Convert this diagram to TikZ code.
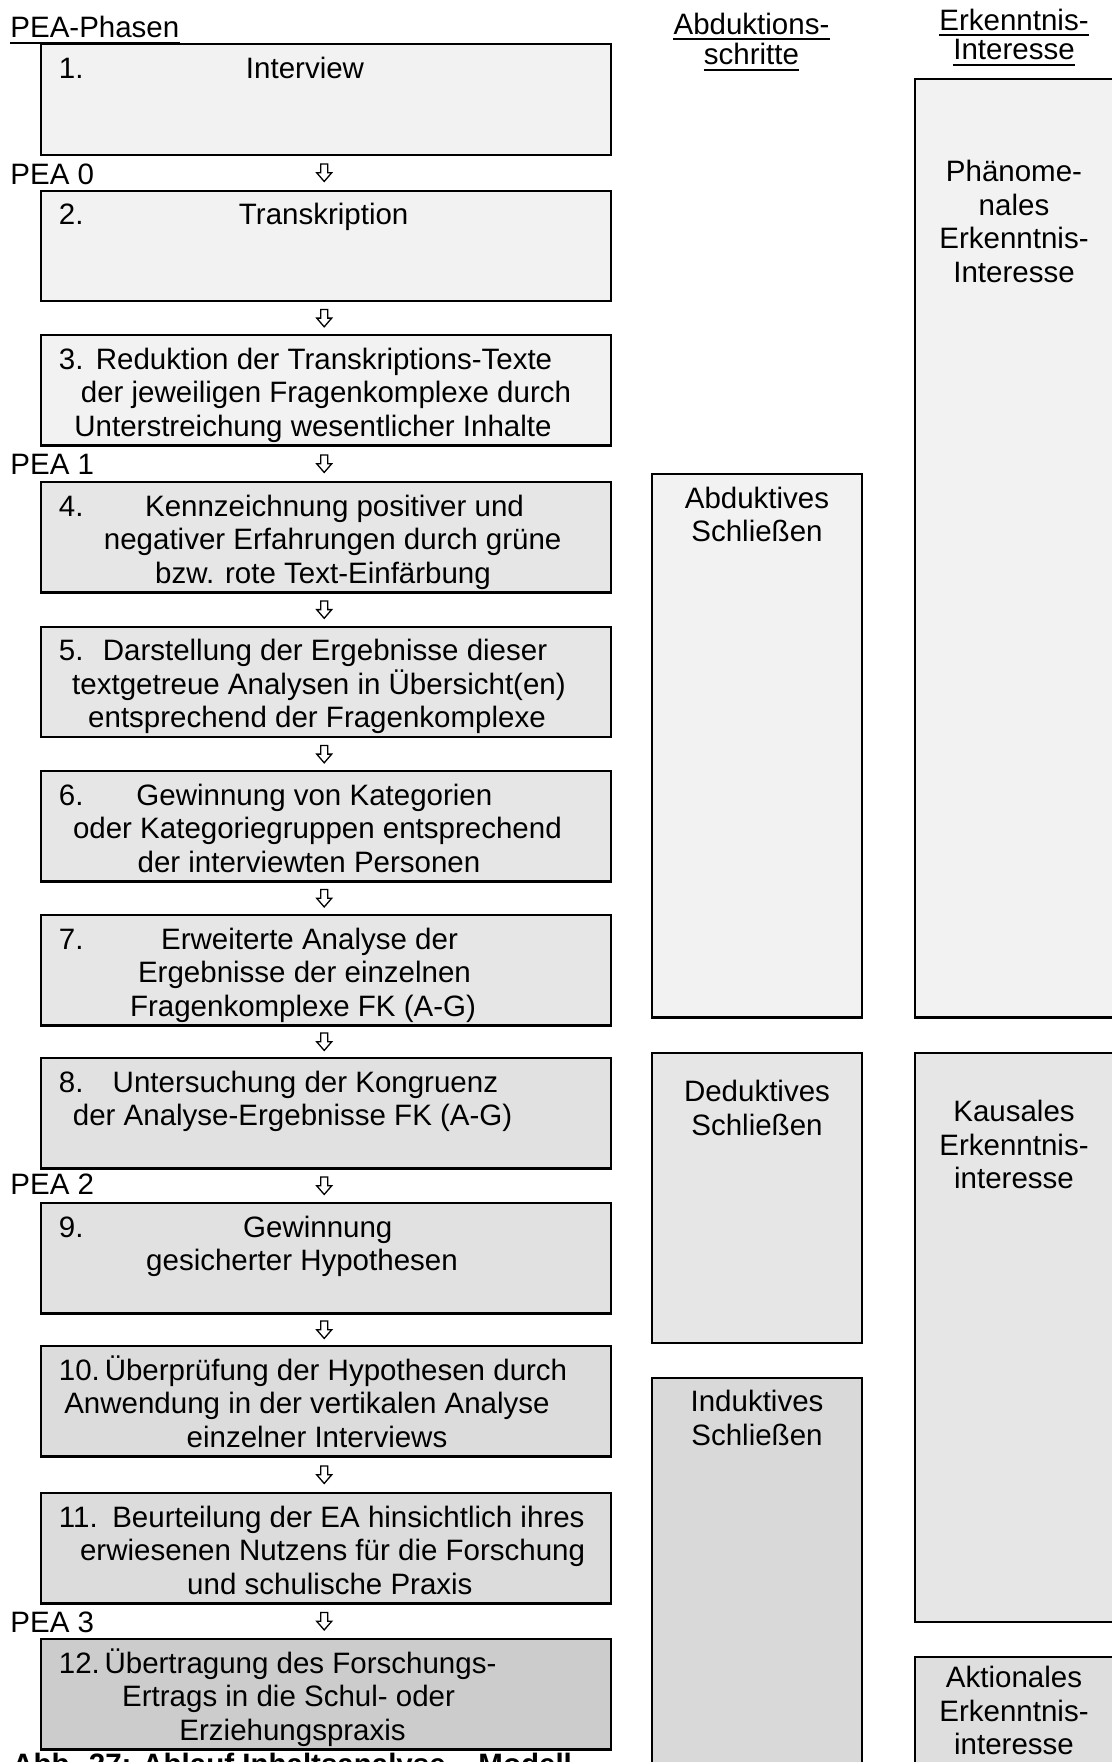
\documentclass[tikz,border=0pt]{standalone}
\usepackage{fontspec}
\setmainfont{Liberation Sans}
\usetikzlibrary{calc}
\definecolor{cA}{HTML}{F2F2F2}
\definecolor{cB}{HTML}{E6E6E6}
\definecolor{cC}{HTML}{E1E1E1}
\definecolor{cD}{HTML}{DCDCDC}
\definecolor{cE}{HTML}{CCCCCC}
\definecolor{cF}{HTML}{D9D9D9}
\definecolor{cG}{HTML}{DEDEDE}
\tikzset{
  box/.style={draw, line width=1.15pt, inner sep=0pt, minimum width=285pt, minimum height=55.25pt},
  colbox/.style={draw, line width=1.15pt, inner sep=0pt, minimum width=105pt},
  erkbox/.style={draw, line width=1.15pt, inner sep=0pt, minimum width=107.5pt},
  txt/.style={inner sep=0pt, anchor=base, font=\fontsize{14.75}{17}\selectfont},
  num/.style={txt, anchor=base west},
  harrow/.style={draw=black, fill=white, line width=0.65pt, line join=miter},
  uline/.style={line width=1pt},
}
\begin{document}
\begin{tikzpicture}[x=0.5pt,y=-0.5pt]
\useasboundingbox (0,0) rectangle (1112,1762);

% ---------- left column boxes ----------
\node[box, fill=cA] (b1)  at (326,99.55)   {};
\node[box, fill=cA] (b2)  at (326,245.95)  {};
\node[box, fill=cA] (b3)  at (326,390.25)  {};
\node[box, fill=cB] (b4)  at (326,537.25)  {};
\node[box, fill=cB] (b5)  at (326,681.95)  {};
\node[box, fill=cB] (b6)  at (326,826.25)  {};
\node[box, fill=cB] (b7)  at (326,970.25)  {};
\node[box, fill=cC] (b8)  at (326,1113.25) {};
\node[box, fill=cC] (b9)  at (326,1258.25) {};
\node[box, fill=cD] (b10) at (326,1401.25) {};
\node[box, fill=cD] (b11) at (326,1548.25) {};
\node[box, fill=cE] (b12) at (326,1694.25) {};

% ---------- hollow arrows between the boxes ----------
\foreach \u/\v in {b1/b2,b2/b3,b3/b4,b4/b5,b5/b6,b6/b7,b7/b8,b8/b9,b9/b10,b10/b11,b11/b12}{
  \coordinate (m-\u) at ($(\u.south)!0.5!(\v.north)+(-1.8,0)$);
  \draw[harrow] (m-\u) ++(-3.5,-8.7) -- ++(7,0) -- ++(0,8.7) -- ++(4,0)
        -- ++(-7.5,8.7) -- ++(-7.5,-8.7) -- ++(4,0) -- cycle;
}

% ---------- left labels ----------
\node[num] (hP) at (10,37.5) {PEA-Phasen};
\draw[uline] ([yshift=-2.7pt]hP.base west) -- ([yshift=-2.7pt]hP.base east);
\node[num] (p0) at (10,184.5)  {PEA 0};
\node[num] (p1) at (10,474.8)  {PEA 1};
\node[num] (p2) at (10,1194.5) {PEA 2};
\node[num] (p3) at (10,1632)   {PEA 3};

% ---------- box texts ----------
\node[num] (n1) at (58.5,78.3) {1.};
\node[txt] (t1a) at (305,78.3) {Interview};

\node[num] (n2) at (58.5,224.7) {2.};
\node[txt] (t2a) at (323.7,224.7) {Transkription};

\node[num] (n3) at (58.5,369) {3.};
\node[txt] (t3a) at (324,369)   {Reduktion der Transkriptions-Texte};
\node[txt] (t3b) at (326,402.5) {der jeweiligen Fragenkomplexe durch};
\node[txt] (t3c) at (313,436)   {Unterstreichung wesentlicher Inhalte};

\node[num] (n4) at (58.5,516) {4.};
\node[txt] (t4a) at (334.5,516)  {Kennzeichnung positiver und};
\node[txt] (t4b) at (332.7,549.5){negativer Erfahrungen durch grüne};
\node[txt] (t4c) at (323,583)    {bzw. rote Text-Einfärbung};

\node[num] (n5) at (58.5,660.7) {5.};
\node[txt] (t5a) at (325,660.7) {Darstellung der Ergebnisse dieser};
\node[txt] (t5b) at (319,694.2) {textgetreue Analysen in Übersicht(en)};
\node[txt] (t5c) at (317,727.7) {entsprechend der Fragenkomplexe};

\node[num] (n6) at (58.5,805) {6.};
\node[txt] (t6a) at (314.4,805)  {Gewinnung von Kategorien};
\node[txt] (t6b) at (317.4,838.5){oder Kategoriegruppen entsprechend};
\node[txt] (t6c) at (309,872)    {der interviewten Personen};

\node[num] (n7) at (58.5,949) {7.};
\node[txt] (t7a) at (309.5,949)   {Erweiterte Analyse der};
\node[txt] (t7b) at (304.5,982.5) {Ergebnisse der einzelnen};
\node[txt] (t7c) at (303,1016)    {Fragenkomplexe FK (A-G)};

\node[num] (n8) at (58.5,1092) {8.};
\node[txt] (t8a) at (305.4,1092)  {Untersuchung der Kongruenz};
\node[txt] (t8b) at (292.6,1125.5){der Analyse-Ergebnisse FK (A-G)};

\node[num] (n9) at (58.5,1237) {9.};
\node[txt] (t9a) at (317.8,1237)  {Gewinnung};
\node[txt] (t9b) at (302,1270.5)  {gesicherter Hypothesen};

\node[num] (n10) at (58.5,1380) {10.};
\node[txt] (t10a) at (336,1380)   {Überprüfung der Hypothesen durch};
\node[txt] (t10b) at (307,1413.5) {Anwendung in der vertikalen Analyse};
\node[txt] (t10c) at (317,1447)   {einzelner Interviews};

\node[num] (n11) at (58.5,1527) {11.};
\node[txt] (t11a) at (348.4,1527)  {Beurteilung der EA hinsichtlich ihres};
\node[txt] (t11b) at (332.6,1560.5){erwiesenen Nutzens für die Forschung};
\node[txt] (t11c) at (329.9,1594)  {und schulische Praxis};

\node[num] (n12) at (58.5,1673) {12.};
\node[txt] (t12a) at (300.5,1673)  {Übertragung des Forschungs-};
\node[txt] (t12b) at (288.6,1706.5){Ertrags in die Schul- oder};
\node[txt] (t12c) at (292.6,1740)  {Erziehungspraxis};

\node[num, font=\bfseries\fontsize{14.75}{17}\selectfont] (cap) at (12,1774.5)
  {Abb. 27: Ablauf Inhaltsanalyse – Modell};

% ---------- Abduktionsschritte column ----------
\node[txt] (hA1) at (751.5,34) {Abduktions-};
\node[txt] (hA2) at (751.5,64.5) {schritte};
\draw[uline] ([yshift=-2.5pt]hA1.base west) -- ([yshift=-2.5pt]hA1.base east);
\draw[uline] ([yshift=-2.5pt]hA2.base west) -- ([yshift=-2.5pt]hA2.base east);

\node[colbox, fill=cA, minimum height=271.65pt] (abd) at (757,745.95) {};
\node[colbox, fill=cB, minimum height=144.7pt]  (ded) at (757,1198)   {};
\node[colbox, fill=cF, minimum height=211.15pt] (ind) at (757,1588.85) {};

\node[txt] (abd1) at (757,508)    {Abduktives};
\node[txt] (abd2) at (757,541.5)  {Schließen};
\node[txt] (ded1) at (757,1101.5) {Deduktives};
\node[txt] (ded2) at (757,1135)   {Schließen};
\node[txt] (ind1) at (757,1411.5) {Induktives};
\node[txt] (ind2) at (757,1445)   {Schließen};

% ---------- Erkenntnis-Interesse column ----------
\node[txt] (hE1) at (1014,30) {Erkenntnis-};
\node[txt] (hE2) at (1014,59.5) {Interesse};
\draw[uline] ([yshift=-2.5pt]hE1.base west) -- ([yshift=-2.5pt]hE1.base east);
\draw[uline] ([yshift=-2.5pt]hE2.base west) -- ([yshift=-2.5pt]hE2.base east);

\node[erkbox, fill=cA, minimum height=469.3pt] (phae) at (1022.5,548.3)  {};
\node[erkbox, fill=cB, minimum height=284.2pt] (kaus) at (1022.5,1337.5) {};
\node[erkbox, fill=cG, minimum height=71.65pt] (akt)  at (1022.5,1728.35) {};

\node[txt] (ph1) at (1014,181.5) {Phänome-};
\node[txt] (ph2) at (1014,215)   {nales};
\node[txt] (ph3) at (1014,248.5) {Erkenntnis-};
\node[txt] (ph4) at (1014,282)   {Interesse};

\node[txt] (ka1) at (1014,1121.5) {Kausales};
\node[txt] (ka2) at (1014,1155)   {Erkenntnis-};
\node[txt] (ka3) at (1014,1188.5) {interesse};

\node[txt] (ak1) at (1014,1687.5) {Aktionales};
\node[txt] (ak2) at (1014,1721)   {Erkenntnis-};
\node[txt] (ak3) at (1014,1754.5) {interesse};
\end{tikzpicture}
\end{document}
